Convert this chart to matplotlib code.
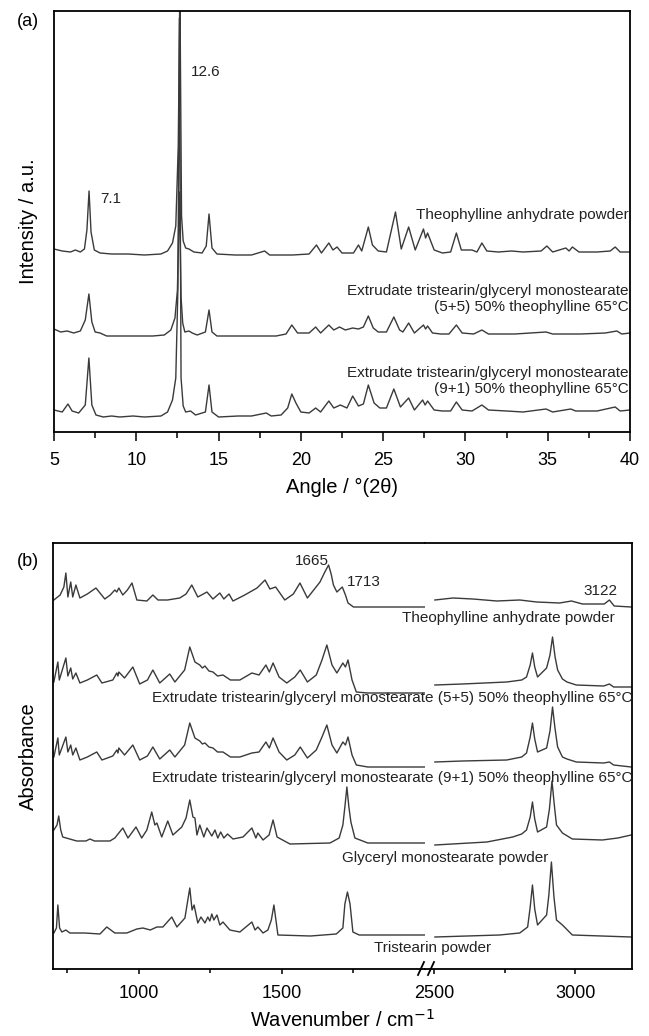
import matplotlib
matplotlib.use("Agg")
import matplotlib.pyplot as plt
from matplotlib.lines import Line2D
from matplotlib.ticker import MultipleLocator

plt.rcParams['font.family'] = ['Liberation Sans', 'DejaVu Sans']

# ---------------- (a) XRD patterns: angle (2theta) / intensity above baseline
theo_x = [5.0, 5.5, 6.0, 6.3, 6.6, 6.85, 7.0, 7.13, 7.25, 7.45, 7.8, 8.5, 9.5, 10.5, 11.5,
          11.9, 12.2, 12.4, 12.55, 12.65, 12.75, 12.85, 13.0, 13.2, 13.5, 14.0, 14.25, 14.42,
          14.6, 14.9, 16.0, 17.0, 17.8, 18.1, 19.5, 20.5, 20.95, 21.25, 21.7, 21.95, 22.2,
          22.5, 23.2, 23.5, 23.7, 24.1, 24.35, 24.7, 25.2, 25.75, 26.1, 26.55, 26.95, 27.45,
          27.58, 27.7, 28.1, 28.6, 29.1, 29.45, 29.75, 30.4, 30.7, 31.0, 31.3, 32.0, 32.8,
          33.5, 34.6, 34.95, 35.3, 36.1, 36.3, 36.5, 36.9, 38.0, 38.8, 39.1, 39.4, 40.0]
theo_y = [7, 5, 4, 6, 4, 7, 26, 65, 24, 6, 3, 2, 2, 1, 2,
          5, 13, 30, 110, 270, 40, 15, 8, 7, 4, 3, 10, 42,
          8, 2, 1, 1, 5, 1, 1, 2, 11, 3, 13, 6, 9,
          3, 3, 11, 5, 29, 11, 5, 4, 44, 7, 29, 6, 27,
          18, 23, 6, 3, 4, 23, 6, 6, 4, 13, 5, 4, 5,
          4, 5, 10, 4, 8, 5, 9, 4, 4, 5, 9, 4, 4]

ext55_x = [5.0, 5.4, 5.8, 6.2, 6.6, 6.9, 7.12, 7.3, 7.5, 7.8, 8.2, 9.0, 10.0, 11.0, 11.7,
           12.1, 12.35, 12.5, 12.62, 12.72, 12.82, 12.95, 13.2, 13.4, 13.7, 14.2, 14.42, 14.6,
           14.9, 16.0, 17.5, 18.5, 19.1, 19.45, 19.8, 20.5, 20.9, 21.2, 21.7, 22.0, 22.35,
           22.7, 23.15, 23.5, 23.8, 24.1, 24.4, 24.7, 25.2, 25.65, 26.0, 26.2, 26.55, 26.9,
           27.45, 27.58, 27.7, 28.0, 28.5, 29.0, 29.45, 29.8, 30.5, 31.0, 31.4, 33.0, 34.9,
           35.3, 37.0, 38.5, 39.2, 39.5, 40.0]
ext55_y = [8, 5, 6, 4, 6, 17, 43, 15, 5, 4, 1, 1, 1, 1, 2,
           7, 19, 47, 145, 40, 14, 5, 6, 4, 2, 5, 27, 5,
           1, 1, 1, 1, 3, 12, 4, 4, 10, 4, 12, 7, 10,
           7, 9, 8, 10, 21, 9, 5, 5, 20, 7, 5, 14, 4,
           12, 8, 11, 4, 3, 3, 12, 4, 3, 7, 3, 3, 5,
           3, 3, 4, 6, 3, 4]

ext91_x = [5.0, 5.5, 5.85, 6.1, 6.5, 6.9, 7.12, 7.3, 7.55, 8.0, 8.5, 9.0, 9.8, 10.5, 11.5,
           11.9, 12.2, 12.4, 12.53, 12.62, 12.72, 12.85, 13.0, 13.3, 13.6, 14.2, 14.42, 14.6,
           15.0, 16.2, 17.0, 17.9, 18.2, 18.8, 19.2, 19.45, 19.7, 20.0, 20.5, 20.9, 21.2,
           21.7, 22.0, 22.4, 22.8, 23.15, 23.5, 23.8, 24.1, 24.45, 24.8, 25.2, 25.65, 26.05,
           26.55, 26.9, 27.4, 27.55, 27.7, 28.1, 28.6, 29.1, 29.45, 29.8, 30.4, 31.0, 31.4,
           32.5, 33.5, 34.9, 35.3, 36.4, 36.7, 38.0, 39.1, 39.4, 40.0]
ext91_y = [8, 6, 14, 7, 5, 13, 60, 13, 3, 1, 2, 1, 2, 1, 2,
           6, 18, 40, 130, 400, 40, 12, 6, 7, 3, 6, 33, 6,
           1, 2, 2, 5, 2, 3, 10, 24, 15, 6, 5, 10, 6,
           17, 10, 13, 10, 22, 12, 14, 33, 15, 10, 10, 29, 11,
           20, 8, 18, 13, 17, 8, 7, 7, 16, 8, 7, 13, 8,
           7, 6, 9, 6, 9, 7, 7, 11, 7, 8]

xrd_offsets = [176, 95, 14]
xrd_labels = ["Theophylline anhydrate powder",
              "Extrudate tristearin/glyceryl monostearate\n(5+5) 50% theophylline 65°C",
              "Extrudate tristearin/glyceryl monostearate\n(9+1) 50% theophylline 65°C"]

# ---------------- (b) IR spectra: wavenumber / absorbance above baseline
# low range (700-2000 cm-1)
theo_lo_x = [703, 725, 738, 745, 752, 762, 769, 780, 794, 820, 850, 881, 900, 916, 923, 930,
             944, 960, 976, 993, 1028, 1049, 1067, 1100, 1143, 1165, 1185, 1206, 1238, 1259,
             1283, 1297, 1315, 1329, 1370, 1413, 1441, 1458, 1478, 1510, 1540, 1563, 1589,
             1633, 1650, 1663, 1672, 1680, 1692, 1711, 1722, 1731, 1750, 1850, 2000]
theo_lo_y = [7, 12, 20, 34, 10, 25, 10, 22, 9, 13, 19, 8, 12, 17, 15, 19,
             12, 17, 24, 7, 6, 12, 7, 7, 9, 13, 22, 10, 15, 8,
             14, 8, 13, 6, 12, 19, 27, 18, 20, 7, 13, 24, 9,
             25, 35, 42, 33, 22, 15, 20, 12, 4, 0, 0, 0]
theo_hi_x = [2503, 2567, 2637, 2722, 2803, 2863, 2944, 2986, 3025, 3102, 3120, 3137, 3197]
theo_hi_y = [7, 9, 8, 6, 7, 5, 4, 6, 3, 3, 7, 1, 0]

ext55_lo_x = [703, 717, 722, 745, 752, 762, 769, 780, 794, 820, 853, 871, 909, 923, 927, 930,
              950, 979, 1003, 1030, 1049, 1073, 1108, 1126, 1160, 1178, 1196, 1213, 1222,
              1231, 1245, 1259, 1275, 1294, 1320, 1353, 1395, 1420, 1444, 1456, 1469, 1490,
              1517, 1545, 1564, 1589, 1620, 1640, 1657, 1675, 1692, 1713, 1722, 1731, 1745,
              1760, 1800, 2000]
ext55_lo_y = [11, 31, 13, 35, 17, 25, 14, 20, 10, 13, 18, 10, 13, 20, 17, 21,
              15, 26, 9, 13, 23, 10, 19, 11, 23, 46, 31, 28, 25,
              27, 22, 21, 17, 18, 13, 13, 20, 18, 28, 21, 30, 16,
              10, 16, 23, 11, 18, 33, 48, 28, 20, 30, 26, 33, 13,
              1, 0, 0]
ext55_hi_x = [2503, 2600, 2757, 2810, 2827, 2840, 2848, 2856, 2866, 2898, 2910, 2919, 2928,
              2937, 2954, 2970, 3003, 3100, 3120, 3135, 3197]
ext55_hi_y = [8, 9, 11, 13, 16, 28, 40, 26, 16, 25, 38, 56, 36, 23, 14, 11, 8, 7, 9, 6, 6]

ext91_lo_x = ext55_lo_x
ext91_lo_y = [10, 29, 12, 30, 15, 22, 12, 19, 7, 10, 15, 7, 11, 17, 14, 19,
              12, 22, 7, 11, 20, 8, 17, 10, 22, 44, 29, 26, 23,
              24, 20, 19, 15, 15, 10, 10, 14, 15, 25, 19, 29, 15,
              7, 12, 20, 9, 17, 30, 42, 22, 14, 25, 22, 30, 12,
              2, 0, 0]
ext91_hi_x = ext55_hi_x
ext91_hi_y = [5, 6, 7, 10, 14, 30, 44, 28, 15, 19, 36, 60, 38, 20, 10, 8, 5, 4, 5, 2, 0]

gms_lo_x = [703, 714, 720, 727, 734, 783, 815, 829, 845, 899, 916, 944, 962, 990, 1010, 1028,
            1045, 1056, 1063, 1080, 1101, 1119, 1150, 1165, 1178, 1189, 1196, 1203, 1213,
            1227, 1238, 1255, 1266, 1276, 1286, 1297, 1310, 1329, 1364, 1395, 1409, 1416,
            1434, 1455, 1469, 1483, 1528, 1668, 1700, 1713, 1720, 1727, 1734, 1741, 1755,
            1800, 2000]
gms_lo_y = [15, 20, 29, 15, 8, 4, 4, 6, 4, 4, 7, 17, 7, 18, 7, 15,
            33, 20, 22, 8, 24, 10, 18, 27, 45, 28, 27, 10, 20,
            8, 17, 9, 15, 7, 13, 7, 11, 6, 8, 17, 7, 12,
            5, 10, 25, 8, 1, 2, 7, 20, 38, 58, 38, 23, 7,
            2, 2]
gms_hi_x = [2503, 2687, 2778, 2810, 2827, 2840, 2848, 2856, 2866, 2898, 2908, 2917, 2926,
            2933, 2954, 2989, 3095, 3150, 3197]
gms_hi_y = [0, 3, 8, 11, 15, 28, 43, 26, 13, 18, 36, 64, 38, 20, 12, 6, 5, 7, 10]

tri_lo_x = [703, 712, 717, 723, 731, 745, 759, 811, 864, 888, 916, 958, 993, 1014, 1040, 1063,
            1084, 1115, 1133, 1161, 1178, 1186, 1193, 1206, 1217, 1231, 1241, 1248, 1255,
            1262, 1273, 1283, 1294, 1318, 1353, 1395, 1406, 1416, 1434, 1451, 1463, 1472,
            1486, 1600, 1690, 1713, 1720, 1729, 1738, 1748, 1770, 2000]
tri_lo_y = [4, 9, 32, 9, 5, 7, 4, 4, 3, 10, 4, 4, 8, 9, 7, 10,
            10, 20, 10, 19, 49, 27, 32, 14, 20, 14, 20, 16, 23,
            17, 22, 12, 15, 7, 5, 15, 7, 10, 4, 7, 17, 32,
            2, 1, 3, 9, 33, 45, 33, 5, 2, 2]
tri_hi_x = [2503, 2732, 2803, 2831, 2840, 2848, 2856, 2866, 2898, 2906, 2915, 2924, 2933, 2954,
            2989, 3197]
tri_hi_y = [0, 2, 4, 10, 30, 52, 28, 12, 22, 42, 75, 40, 17, 12, 2, 0]

ir_offsets = [362, 276, 202, 124, 32]

LINE = '#3a3a3a'
W, H = 649, 1036


def fx(px):
    return px / W


def fy(py):
    return 1 - py / H


fig = plt.figure(figsize=(6.49, 10.36), dpi=100)

# ---------------- panel (a)
ax = fig.add_axes([fx(54), fy(432), (630 - 54) / W, (432 - 11) / H])
for (xs, ys), off in zip([(theo_x, theo_y), (ext55_x, ext55_y), (ext91_x, ext91_y)], xrd_offsets):
    ax.plot(xs, [v + off for v in ys], color=LINE, lw=1.0)
ax.set_xlim(5, 40)
ax.set_ylim(0, 421)
ax.xaxis.set_major_locator(MultipleLocator(5))
ax.xaxis.set_minor_locator(MultipleLocator(2.5))
ax.tick_params(axis='x', which='major', direction='out', length=6.5, width=1.1,
               labelsize=13, pad=8)
ax.tick_params(axis='x', which='minor', direction='out', length=4.3, width=1.1)
ax.set_yticks([])
for s in ax.spines.values():
    s.set_linewidth(1.3)
ax.text(13.3, 360, "12.6", fontsize=11, va='center', color='#222222')
ax.text(7.8, 233, "7.1", fontsize=11, va='center', color='#222222')
ax.text(39.9, 217, xrd_labels[0], fontsize=11, ha='right', va='center', color='#222222')
ax.text(39.9, 133, xrd_labels[1], fontsize=11, ha='right', va='center',
        multialignment='right', linespacing=1.15, color='#222222')
ax.text(39.9, 51, xrd_labels[2], fontsize=11, ha='right', va='center',
        multialignment='right', linespacing=1.15, color='#222222')
fig.text(fx(28), fy(22), "(a)", fontsize=13, ha='center', va='center')
fig.text(fx(28), fy(221), "Intensity / a.u.", fontsize=14.5, rotation=90,
         ha='center', va='center')
fig.text(fx(342), fy(487), "Angle / °(2θ)", fontsize=14.5, ha='center', va='center')

# ---------------- panel (b), broken x axis
axl = fig.add_axes([fx(53), fy(969), (425 - 53) / W, (969 - 543) / H])
axr = fig.add_axes([fx(425), fy(969), (632 - 425) / W, (969 - 543) / H])
lows = [(theo_lo_x, theo_lo_y), (ext55_lo_x, ext55_lo_y), (ext91_lo_x, ext91_lo_y),
        (gms_lo_x, gms_lo_y), (tri_lo_x, tri_lo_y)]
highs = [(theo_hi_x, theo_hi_y), (ext55_hi_x, ext55_hi_y), (ext91_hi_x, ext91_hi_y),
         (gms_hi_x, gms_hi_y), (tri_hi_x, tri_hi_y)]
for (xs, ys), off in zip(lows, ir_offsets):
    axl.plot(xs, [v + off for v in ys], color=LINE, lw=1.0)
for (xs, ys), off in zip(highs, ir_offsets):
    axr.plot(xs, [v + off for v in ys], color=LINE, lw=1.0)
axl.set_xlim(700, 2000)
axr.set_xlim(2468, 3200)
axl.set_xticks([1000, 1500])
axl.set_xticks([750, 1250, 1750], minor=True)
axr.set_xticks([2500, 3000])
axr.set_xticks([2750], minor=True)
for a in (axl, axr):
    a.set_ylim(0, 426)
    a.set_yticks([])
    a.tick_params(axis='x', which='major', direction='out', length=3.6, width=1.1,
                  labelsize=13, pad=8)
    a.tick_params(axis='x', which='minor', direction='out', length=3, width=1.1)
    for s in a.spines.values():
        s.set_linewidth(1.3)
axl.spines['right'].set_visible(False)
axr.spines['left'].set_visible(False)

# break marks on the bottom axis
for xb in (421, 431):
    fig.add_artist(Line2D([fx(xb - 3), fx(xb + 3)], [fy(975), fy(962)],
                          color='black', lw=1.3))

axl.text(1605, 408, "1665", fontsize=11, ha='center', va='center', color='#222222')
axl.text(1727, 387, "1713", fontsize=11, ha='left', va='center', color='#222222')
axr.text(3088, 378, "3122", fontsize=11, ha='center', va='center', color='#222222')

fig.text(fx(508), fy(618), "Theophylline anhydrate powder", fontsize=11,
         ha='center', va='center', color='#222222')
fig.text(fx(632), fy(698),
         "Extrudate tristearin/glyceryl monostearate (5+5) 50% theophylline 65°C",
         fontsize=11, ha='right', va='center', color='#222222')
fig.text(fx(632), fy(778),
         "Extrudate tristearin/glyceryl monostearate (9+1) 50% theophylline 65°C",
         fontsize=11, ha='right', va='center', color='#222222')
fig.text(fx(445), fy(858), "Glyceryl monostearate powder", fontsize=11,
         ha='center', va='center', color='#222222')
fig.text(fx(433), fy(948), "Tristearin powder", fontsize=11,
         ha='center', va='center', color='#222222')

fig.text(fx(28), fy(562), "(b)", fontsize=13, ha='center', va='center')
fig.text(fx(28), fy(756), "Absorbance", fontsize=14.5, rotation=90,
         ha='center', va='center')
fig.text(fx(342), fy(1020), "Wavenumber / cm$^{-1}$", fontsize=14.5,
         ha='center', va='center')

fig.savefig("out.png", dpi=100)
